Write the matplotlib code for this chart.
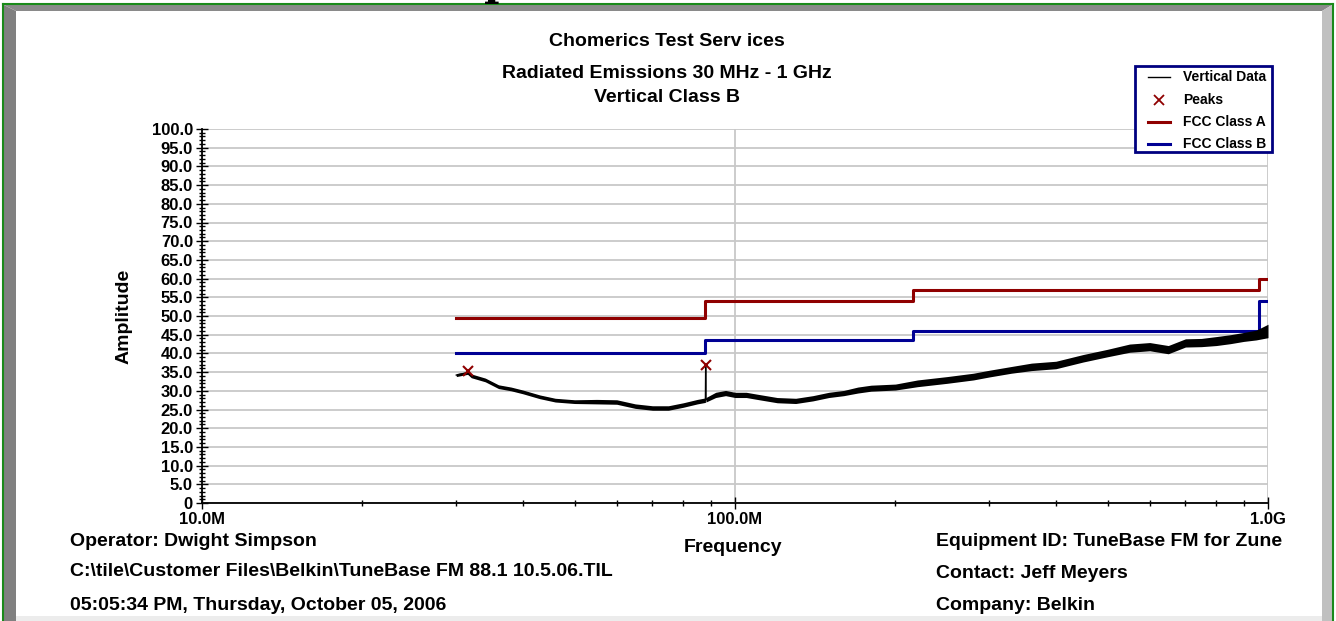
import matplotlib
matplotlib.use("Agg")
import matplotlib.pyplot as plt
from matplotlib.patches import Polygon, Rectangle
from matplotlib.ticker import FixedLocator, FixedFormatter

plt.rcParams['font.family'] = ['Liberation Sans', 'DejaVu Sans']
plt.rcParams['font.weight'] = 'bold'

# ---------------- data ----------------
freq_mhz = [30, 31.5, 32, 34, 36, 38, 40, 43, 46, 50, 55, 60, 65, 70, 75, 80, 85, 88, 88.1, 88.2,
            92, 96, 100, 105, 110, 120, 130, 140, 150, 160, 170, 180, 200, 220, 250, 280,
            300, 330, 360, 400, 450, 500, 550, 600, 650, 700, 750, 800, 850, 900, 950, 1000]
level_db = [34.2, 34.8, 34.0, 32.9, 31.1, 30.5, 29.7, 28.4, 27.5, 27.1, 27.1, 27.0, 25.9, 25.4, 25.4,
            26.2, 27.1, 27.5, 36.8, 27.6, 28.9, 29.4, 28.9, 28.9, 28.4, 27.5, 27.3, 28.0, 28.9,
            29.4, 30.2, 30.7, 31.0, 32.0, 32.9, 33.8, 34.6, 35.6, 36.4, 36.9, 38.7, 40.1, 41.4,
            41.8, 41.0, 42.8, 42.9, 43.3, 43.8, 44.4, 44.9, 46.0]
spread_db = [0.4, 0.4, 0.5, 0.5, 0.5, 0.5, 0.5, 0.5, 0.5, 0.5, 0.6, 0.6, 0.6, 0.6, 0.6, 0.6, 0.6, 0.6,
             0.0, 0.6, 0.7, 0.7, 0.7, 0.7, 0.7, 0.7, 0.7, 0.7, 0.7, 0.7, 0.8, 0.8, 0.8, 0.9, 0.9,
             0.9, 0.9, 0.9, 1.0, 1.0, 1.0, 1.0, 1.1, 1.1, 1.1, 1.1, 1.1, 1.2, 1.2, 1.2, 1.3, 1.8]

peak_freq = [31.5, 88.1]
peak_db = [35.2, 36.8]

limit_freq = [30, 88, 216, 960, 1000]
class_a_db = [49.5, 54.0, 56.9, 60.0, 60.0]
class_b_db = [40.0, 43.5, 46.0, 54.0, 54.0]

x_major = [10, 100, 1000]
x_major_labels = ['10.0M', '100.0M', '1.0G']
x_minor = [20, 30, 40, 50, 60, 70, 80, 90, 200, 300, 400, 500, 600, 700, 800, 900]
y_major = list(range(0, 101, 5))
y_major_labels = ['0'] + ['%.1f' % v for v in y_major[1:]]

title_lines = ['Chomerics Test Serv ices', 'Radiated Emissions 30 MHz - 1 GHz', 'Vertical Class B']
left_info = ['Operator: Dwight Simpson',
             'C:\\tile\\Customer Files\\Belkin\\TuneBase FM 88.1 10.5.06.TIL',
             '05:05:34 PM, Thursday, October 05, 2006']
right_info = ['Equipment ID: TuneBase FM for Zune', 'Contact: Jeff Meyers', 'Company: Belkin']
legend_labels = ['Vertical Data', 'Peaks', 'FCC Class A', 'FCC Class B']

RED = '#8f0000'
BLUE = '#000094'
NAVY = '#000080'

W, H = 1336, 621
fig = plt.figure(figsize=(W / 100, H / 100), dpi=100)
fig.patch.set_facecolor('white')

# background / frame layer in pixel coordinates
bg = fig.add_axes([0, 0, 1, 1], zorder=0)
bg.set_xlim(0, W)
bg.set_ylim(H, 0)
bg.axis('off')
bg.add_patch(Polygon([(4, 5), (16, 11), (16, H), (4, H)], closed=True, fc='#808080', ec='none'))
bg.add_patch(Polygon([(4, 5), (1332, 5), (1322, 11), (16, 11)], closed=True, fc='#8a8a8a', ec='none'))
bg.add_patch(Polygon([(1322, 11), (1332, 5), (1332, H), (1322, H)], closed=True, fc='#c0c0c0', ec='none'))
bg.add_patch(Rectangle((16, 616), 1306, 6, fc='#ececec', ec='none'))
bg.plot([3, 1333], [4, 4], color='#1a8a1a', lw=1.5)
bg.plot([3, 3], [4, H], color='#1a8a1a', lw=1.5)
bg.plot([1333, 1333], [4, H], color='#1a8a1a', lw=1.5)
bg.text(484, -5, 'p', fontsize=30, family='DejaVu Serif', fontweight='bold', va='baseline', ha='left')

for i, s in enumerate(title_lines):
    bg.text(667, [42, 73, 98][i], s, fontsize=14, ha='center', va='center', fontweight='bold')
for i, s in enumerate(left_info):
    bg.text(70, [541, 572, 605][i], s, fontsize=14, ha='left', va='center', fontweight='bold')
for i, s in enumerate(right_info):
    bg.text(936, [541, 573, 605][i], s, fontsize=14, ha='left', va='center', fontweight='bold')
bg.text(124, 316, 'Amplitude', fontsize=14, rotation=90, ha='center', va='center', fontweight='bold')
bg.text(733, 548, 'Frequency', fontsize=14, ha='center', va='center', fontweight='bold')

# main plot axes
ax = fig.add_axes([202 / W, 1 - 503 / H, 1066 / W, 374 / H], zorder=2)
ax.patch.set_alpha(0)
ax.set_xscale('log')
ax.set_xlim(10, 1000)
ax.set_ylim(0, 100)

ax.xaxis.set_major_locator(FixedLocator(x_major))
ax.xaxis.set_major_formatter(FixedFormatter(x_major_labels))
ax.xaxis.set_minor_locator(FixedLocator(x_minor))
ax.xaxis.set_minor_formatter(FixedFormatter([''] * len(x_minor)))
ax.yaxis.set_major_locator(FixedLocator(y_major))
ax.yaxis.set_major_formatter(FixedFormatter(y_major_labels))
ax.yaxis.set_minor_locator(FixedLocator(list(range(0, 101))))

ax.tick_params(which='major', direction='inout', length=9, width=1, labelsize=12, pad=2)
ax.tick_params(which='minor', direction='inout', length=5, width=1)
ax.tick_params(axis='y', which='major', pad=2)
for lab in ax.get_xticklabels() + ax.get_yticklabels():
    lab.set_fontweight('bold')

for side in ['top', 'right']:
    ax.spines[side].set_visible(False)
for side in ['left', 'bottom']:
    ax.spines[side].set_linewidth(1.3)
    ax.spines[side].set_zorder(5)

ax.grid(True, which='major', color='#c8c8c8', lw=1.3, zorder=0)
ax.set_axisbelow(True)

lo = [v - s for v, s in zip(level_db, spread_db)]
hi = [v + s for v, s in zip(level_db, spread_db)]
ax.step(limit_freq, class_a_db, where='post', color=RED, lw=2.2, zorder=3)
ax.step(limit_freq, class_b_db, where='post', color=BLUE, lw=2.2, zorder=3)
ax.fill_between(freq_mhz, lo, hi, color='black', lw=0, zorder=3)
ax.plot(freq_mhz, level_db, color='black', lw=1.0, zorder=3)
ax.plot(peak_freq, peak_db, ls='none', marker='x', ms=6.5, mew=1.5, color=RED, zorder=4)

# legend drawn in a top overlay (pixel coordinates)
fg = fig.add_axes([0, 0, 1, 1], zorder=10)
fg.set_xlim(0, W)
fg.set_ylim(H, 0)
fg.axis('off')
fg.add_patch(Rectangle((1135, 66), 137, 86, fc='white', ec=NAVY, lw=2))
rows = [77, 99.5, 121.5, 143.5]
fg.plot([1148, 1170], [rows[0], rows[0]], color='black', lw=1)
fg.plot([1159], [rows[1]], ls='none', marker='x', ms=6.5, mew=1.3, color=RED)
fg.plot([1148, 1170], [rows[2], rows[2]], color=RED, lw=2.2)
fg.plot([1148, 1170], [rows[3], rows[3]], color=BLUE, lw=2.2)
for r, s in zip(rows, legend_labels):
    fg.text(1183, r, s, fontsize=10, ha='left', va='center', fontweight='bold')

fig.savefig('out.png', dpi=100)
